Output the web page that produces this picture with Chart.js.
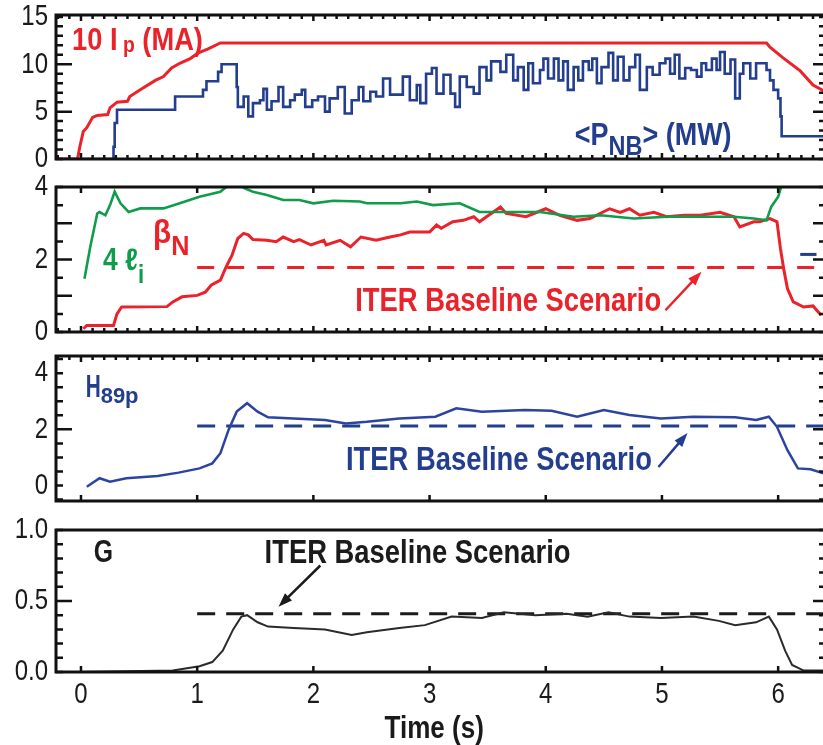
<!DOCTYPE html>
<html>
<head>
<meta charset="utf-8">
<script src="https://cdn.jsdelivr.net/npm/chart.js@4.4.0/dist/chart.umd.min.js"></script>
<style>
  html, body { margin: 0; padding: 0; background: #fff; overflow: hidden; }
  #wrap { position: relative; width: 823px; height: 745px; overflow: hidden; }
  canvas { position: absolute; left: 0; }
</style>
</head>
<body>
<div id="wrap">
  <canvas id="p1" width="825" height="175" style="top:0px"></canvas>
  <canvas id="p2" width="825" height="175" style="top:172px"></canvas>
  <canvas id="p3" width="825" height="175" style="top:341px"></canvas>
  <canvas id="p4" width="825" height="230" style="top:515px"></canvas>
</div>
<script>
// time axis (s)
const xMin = -0.215, xMax = 6.386;
const xTicks = [0, 1, 2, 3, 4, 5, 6];

// panel 1: 10*Ip (MA) and <P_NB> (MW)  -- [time, value]
const ip10 = [[-0.19,0],[-0.03,0],[-0.01,1.3],[0.02,2.9],[0.05,3.3],[0.10,4.4],[0.14,4.6],[0.23,4.7],[0.25,5.4],
  [0.29,5.8],[0.31,6.0],[0.40,6.1],[0.42,6.6],[0.51,7.3],[0.64,8.3],[0.71,8.7],[0.78,9.6],[0.85,10.1],[0.94,10.6],
  [1.01,11.2],[1.09,11.6],[1.20,12.25],[5.90,12.25],[5.93,11.8],[6.04,10.7],[6.19,9.3],[6.30,7.8],[6.39,7.2]];
const pnb = [[0.02,0],[0.26,0],[0.28,1.3],[0.29,3.8],[0.31,5.2],[0.78,5.2],[0.81,6.6],[1.02,6.6],[1.05,7.3],[1.08,8.2],
  [1.18,9.2],[1.21,10.0],[1.33,10.0],[1.34,7.6],[1.35,5.5],[1.40,6.6],[1.44,4.5],[1.48,5.9],[1.54,6.2],[1.57,7.4],
  [1.60,5.2],[1.64,6.1],[1.70,7.6],[1.74,5.5],[1.80,6.2],[1.84,6.8],[1.90,7.3],[1.93,5.5],[1.99,6.2],[2.04,6.6],
  [2.10,5.0],[2.14,6.4],[2.21,7.6],[2.27,4.8],[2.33,6.2],[2.39,7.6],[2.43,6.1],[2.49,7.1],[2.54,6.6],[2.60,8.5],
  [2.66,6.8],[2.77,8.7],[2.83,6.2],[2.89,7.8],[2.92,5.9],[2.97,9.0],[3.02,9.6],[3.06,6.9],[3.12,8.9],[3.18,6.9],
  [3.22,5.5],[3.26,8.7],[3.32,7.6],[3.38,6.9],[3.43,9.7],[3.49,8.3],[3.53,10.3],[3.61,9.2],[3.66,11.0],[3.72,8.3],
  [3.76,9.7],[3.81,7.3],[3.85,10.1],[3.89,8.0],[3.95,9.4],[3.98,10.6],[4.02,8.5],[4.07,10.6],[4.11,8.3],[4.15,10.3],
  [4.19,7.3],[4.24,9.7],[4.28,8.3],[4.32,10.3],[4.37,9.4],[4.40,10.6],[4.44,8.0],[4.48,9.7],[4.54,11.2],[4.58,8.3],
  [4.62,10.8],[4.67,8.3],[4.72,9.7],[4.77,11.0],[4.81,7.3],[4.87,9.7],[4.92,8.9],[4.98,10.1],[5.03,10.6],[5.07,9.0],
  [5.11,11.0],[5.15,8.5],[5.20,9.6],[5.25,9.4],[5.30,8.7],[5.34,10.1],[5.38,9.4],[5.43,10.6],[5.47,9.4],[5.50,11.3],
  [5.54,9.0],[5.59,10.5],[5.63,6.4],[5.67,9.0],[5.70,10.1],[5.76,8.5],[5.81,10.1],[5.87,10.1],[5.90,9.4],[5.93,8.3],
  [5.96,7.3],[6.00,6.4],[6.02,4.5],[6.03,2.4],[6.39,2.4]];

// panel 2: beta_N, 4*li
const betaN = [[0.02,0.09],[0.05,0.18],[0.28,0.18],[0.31,0.5],[0.35,0.69],[0.74,0.7],[0.79,0.83],[0.87,0.97],[1.0,1.01],
  [1.07,1.1],[1.12,1.29],[1.2,1.43],[1.25,1.8],[1.3,2.12],[1.33,2.4],[1.35,2.58],[1.4,2.72],[1.44,2.68],[1.48,2.55],
  [1.6,2.53],[1.68,2.49],[1.74,2.62],[1.83,2.49],[1.88,2.55],[1.98,2.4],[2.09,2.53],[2.11,2.4],[2.23,2.53],[2.32,2.35],
  [2.41,2.62],[2.54,2.53],[2.66,2.62],[2.75,2.68],[2.83,2.76],[3.0,2.76],[3.06,2.95],[3.1,2.86],[3.2,3.04],[3.29,3.08],
  [3.38,3.18],[3.43,3.04],[3.49,3.18],[3.61,3.45],[3.66,3.27],[3.83,3.18],[4.0,3.4],[4.12,3.22],[4.27,3.08],[4.38,3.13],
  [4.55,3.4],[4.64,3.3],[4.72,3.4],[4.81,3.22],[4.93,3.3],[5.04,3.18],[5.19,3.22],[5.33,3.22],[5.5,3.3],[5.62,3.18],
  [5.67,2.9],[5.79,3.04],[5.84,3.04],[5.93,3.13],[5.99,3.04],[6.02,2.3],[6.05,1.7],[6.08,1.2],[6.13,0.83],[6.22,0.69],
  [6.3,0.72],[6.37,0.46]];
const li4 = [[0.03,1.47],[0.08,2.35],[0.14,3.27],[0.16,3.31],[0.21,3.22],[0.25,3.5],[0.29,3.87],[0.34,3.55],[0.41,3.31],
  [0.51,3.41],[0.71,3.41],[0.85,3.55],[1.02,3.73],[1.2,3.87],[1.25,4.0],[1.32,4.15],[1.41,3.96],[1.48,3.87],[1.6,3.78],
  [1.74,3.64],[1.88,3.64],[2.0,3.55],[2.17,3.62],[2.4,3.6],[2.46,3.55],[2.75,3.55],[2.89,3.6],[3.03,3.5],[3.26,3.55],
  [3.43,3.31],[3.69,3.31],[3.95,3.31],[4.24,3.18],[4.47,3.22],[4.76,3.13],[5.04,3.18],[5.33,3.18],[5.62,3.18],[5.79,3.13],
  [5.9,3.08],[5.94,3.45],[6.0,3.73],[6.04,4.15]];
const stub = [[6.19,2.14],[6.33,2.14]];

// panel 3: H89p
const h89 = [[0.05,-0.04],[0.16,0.26],[0.25,0.14],[0.39,0.26],[0.66,0.34],[0.84,0.46],[1.02,0.61],[1.13,0.79],[1.2,1.15],
  [1.27,1.98],[1.34,2.63],[1.43,2.93],[1.52,2.63],[1.61,2.43],[1.83,2.39],[2.1,2.33],[2.28,2.21],[2.46,2.27],[2.74,2.39],
  [3.05,2.45],[3.23,2.75],[3.45,2.63],[3.82,2.69],[4.05,2.66],[4.27,2.45],[4.5,2.69],[4.72,2.51],[4.99,2.39],[5.27,2.45],
  [5.63,2.43],[5.81,2.33],[5.92,2.45],[5.99,2.09],[6.08,1.26],[6.17,0.61],[6.28,0.58],[6.39,0.43]];

// panel 4: G
const gain = [[0.0,0.0],[0.79,0.01],[1.02,0.04],[1.13,0.07],[1.22,0.15],[1.31,0.3],[1.38,0.39],[1.43,0.4],[1.52,0.35],
  [1.61,0.32],[1.83,0.31],[2.1,0.3],[2.33,0.26],[2.46,0.28],[2.74,0.31],[2.96,0.33],[3.19,0.39],[3.45,0.38],[3.64,0.42],
  [3.91,0.4],[4.18,0.41],[4.36,0.39],[4.54,0.42],[4.72,0.39],[4.99,0.38],[5.27,0.39],[5.49,0.36],[5.63,0.33],[5.81,0.35],
  [5.92,0.39],[5.99,0.3],[6.06,0.15],[6.12,0.05],[6.22,0.01],[6.39,0.01]];

// ITER baseline levels (dashed lines start at 1 s)
const iterStart = 1.0;
const iterBetaN = 1.78, iterH89 = 2.12, iterG = 0.41;

// y tick labels
const y1Ticks = [0, 5, 10, 15];
const y2Ticks = [0, 2, 4];
const y3Ticks = [0, 2, 4];
const y4Ticks = [0, 0.5, 1];

const FONT = '"Liberation Sans", Arial, sans-serif';
const RED = '#ea2229', BLUE = '#233e8e', GREEN = '#109c4b', BLACK = '#1b1b1b';
const TICK_SX = 0.8;

function xy(pairs) { return pairs.map(p => ({ x: p[0], y: p[1] })); }
function level(v) { return [{ x: iterStart, y: v }, { x: xMax, y: v }]; }

function line(data, color, width, extra) {
  return Object.assign({ data: xy(data), borderColor: color, borderWidth: width, pointRadius: 0, tension: 0, fill: false }, extra || {});
}
function dashed(v, color, dash) {
  return { data: level(v), borderColor: color, borderWidth: 3, pointRadius: 0, borderDash: dash, fill: false };
}

// narrow text: horizontally squeezed canvas text
function squeezed(ctx, text, x, y, sx, align) {
  ctx.save();
  ctx.translate(x, y);
  ctx.scale(sx, 1);
  ctx.textAlign = align || 'left';
  ctx.fillText(text, 0, 0);
  ctx.restore();
}

function drawNote(chart, n) {
  const ctx = chart.ctx;
  let px = chart.scales.x.getPixelForValue(n.at[0]);
  const py = chart.scales.y.getPixelForValue(n.at[1]);
  ctx.save();
  ctx.fillStyle = n.color;
  ctx.textBaseline = 'alphabetic';
  n.parts.forEach(p => {
    const sx = p.sx || n.sx || 1;
    ctx.font = (p.weight || 'bold') + ' ' + p.size + 'px ' + FONT;
    squeezed(ctx, p.text, px, py + (p.dy || 0), sx);
    px += ctx.measureText(p.text).width * sx;
  });
  ctx.restore();
}

function drawArrow(chart, a) {
  const ctx = chart.ctx, sx = chart.scales.x, sy = chart.scales.y;
  const x0 = sx.getPixelForValue(a.from[0]), y0 = sy.getPixelForValue(a.from[1]);
  const x1 = sx.getPixelForValue(a.to[0]), y1 = sy.getPixelForValue(a.to[1]);
  const ang = Math.atan2(y1 - y0, x1 - x0);
  ctx.save();
  ctx.strokeStyle = a.color;
  ctx.fillStyle = a.color;
  ctx.lineWidth = 2.5;
  ctx.beginPath();
  ctx.moveTo(x0, y0);
  ctx.lineTo(x1 - 10 * Math.cos(ang), y1 - 10 * Math.sin(ang));
  ctx.stroke();
  ctx.beginPath();
  ctx.moveTo(x1, y1);
  ctx.lineTo(x1 - 14 * Math.cos(ang) + 5 * Math.sin(ang), y1 - 14 * Math.sin(ang) - 5 * Math.cos(ang));
  ctx.lineTo(x1 - 14 * Math.cos(ang) - 5 * Math.sin(ang), y1 - 14 * Math.sin(ang) + 5 * Math.cos(ang));
  ctx.closePath();
  ctx.fill();
  ctx.restore();
}

// frame with inward ticks, tick labels, text notes and arrows
const framePlugin = {
  id: 'frame',
  afterDraw(chart, args, opts) {
    const ctx = chart.ctx, a = chart.chartArea, sx = chart.scales.x, sy = chart.scales.y;
    ctx.save();
    ctx.strokeStyle = '#111';
    ctx.lineWidth = 3;
    ctx.beginPath();
    ctx.moveTo(a.right + 2, a.top); ctx.lineTo(a.left, a.top);
    ctx.lineTo(a.left, a.bottom); ctx.lineTo(a.right + 2, a.bottom);
    ctx.stroke();

    ctx.lineWidth = 2.5;
    ctx.beginPath();
    for (let i = Math.ceil(xMin * 10); i <= Math.floor(xMax * 10); i++) {
      const major = i % 10 === 0;
      const x = sx.getPixelForValue(i / 10);
      if (opts.xTop === 'minor' || (opts.xTop === 'major' && major)) {
        ctx.moveTo(x, a.top); ctx.lineTo(x, a.top + (major ? 6 : 4));
      }
      if (opts.xBottom === 'minor' || (opts.xBottom === 'major' && major)) {
        ctx.moveTo(x, a.bottom); ctx.lineTo(x, a.bottom - (major ? 6 : 4));
      }
    }
    const n = Math.round((sy.max - sy.min) / opts.yStep) + 2;
    const start = Math.ceil(sy.min / opts.yStep - 1e-6);
    for (let k = start; k < start + n; k++) {
      const v = k * opts.yStep;
      if (v < sy.min - 1e-6 || v > sy.max + 1e-6) continue;
      const y = sy.getPixelForValue(v);
      const major = opts.yMajors.some(m => Math.abs(m - v) < 1e-6);
      ctx.moveTo(a.left, y); ctx.lineTo(a.left + (major ? 16 : 7), y);
      ctx.moveTo(a.right, y); ctx.lineTo(a.right - (major ? 10 : 4), y);
    }
    ctx.stroke();

    // tick labels from the scales' own ticks
    ctx.fillStyle = '#1a1a1a';
    ctx.font = '30px ' + FONT;
    ctx.textBaseline = 'middle';
    const fmt = opts.yFormat || (v => String(v));
    sy.ticks.forEach(t => squeezed(ctx, fmt(t.value), a.left - 8, sy.getPixelForValue(t.value), TICK_SX, 'right'));
    if (opts.showX) {
      ctx.textBaseline = 'alphabetic';
      sx.ticks.forEach(t => squeezed(ctx, String(t.value), sx.getPixelForValue(t.value), a.bottom + 31, TICK_SX, 'center'));
      ctx.font = 'bold 31px ' + FONT;
      squeezed(ctx, 'Time (s)', sx.getPixelForValue(opts.titleAt), a.bottom + 66, 0.84, 'center');
    }
    ctx.restore();

    (opts.notes || []).forEach(nt => drawNote(chart, nt));
    (opts.arrows || []).forEach(ar => drawArrow(chart, ar));
  }
};

function makePanel(id, cfg) {
  const showX = !!cfg.showX;
  new Chart(document.getElementById(id), {
    type: 'line',
    data: { datasets: cfg.datasets },
    plugins: [framePlugin],
    options: {
      responsive: false,
      animation: false,
      events: [],
      layout: { autoPadding: false, padding: { top: 15, bottom: cfg.padBottom, left: 0, right: 2 } },
      plugins: { legend: { display: false }, tooltip: { enabled: false },
                 frame: Object.assign({ showX: showX, titleAt: 3.04 }, cfg.frame) },
      scales: {
        x: {
          type: 'linear', min: xMin, max: xMax, display: false,
          afterBuildTicks: s => { s.ticks = xTicks.map(v => ({ value: v })); }
        },
        y: {
          type: 'linear', min: cfg.yMin, max: cfg.yMax,
          afterFit: s => { s.width = 56; },
          afterBuildTicks: s => { s.ticks = cfg.yTicks.map(v => ({ value: v })); },
          grid: { display: false, drawTicks: false },
          border: { display: false },
          ticks: { display: false }
        }
      }
    }
  });
}

const iterText = 'ITER Baseline Scenario';

makePanel('p1', {
  yMin: 0, yMax: 15.2, yTicks: y1Ticks, padBottom: 16,
  datasets: [
    line(ip10, RED, 3),
    line(pnb, BLUE, 2.6, { stepped: true })
  ],
  frame: {
    xTop: 'minor', xBottom: 'minor', yStep: 1, yMajors: [5, 10],
    notes: [
      { at: [-0.077, 11.5], color: RED, sx: 0.88,
        parts: [{ text: '10 I', size: 31 }, { text: ' p', size: 22, dy: 2 }, { text: ' (MA)', size: 31 }] },
      { at: [4.25, 1.48], color: BLUE, sx: 0.87,
        parts: [{ text: '<P', size: 31 }, { text: 'NB', size: 27, dy: 10 }, { text: '> (MW)', size: 31 }] }
    ]
  }
});

makePanel('p2', {
  yMin: 0, yMax: 4, yTicks: y2Ticks, padBottom: 15,
  datasets: [
    line(li4, GREEN, 2.6),
    line(betaN, RED, 3),
    line(stub, BLUE, 3),
    dashed(iterBetaN, RED, [17, 13])
  ],
  frame: {
    xTop: 'major', xBottom: 'minor', yStep: 0.5, yMajors: [1, 2, 3],
    notes: [
      { at: [0.19, 1.70], color: GREEN, sx: 0.85,
        parts: [{ text: '4 \u2113', size: 31 }, { text: 'i', size: 26, dy: 13 }] },
      { at: [0.62, 2.45], color: RED, sx: 0.9,
        parts: [{ text: '\u03B2', size: 33 }, { text: 'N', size: 28, dy: 12 }] },
      { at: [2.36, 0.57], color: RED, sx: 0.83, parts: [{ text: iterText, size: 33 }] }
    ],
    arrows: [{ from: [5.03, 0.6], to: [5.34, 1.66], color: RED }]
  }
});

makePanel('p3', {
  yMin: -0.55, yMax: 4.61, yTicks: y3Ticks, padBottom: 15,
  datasets: [
    line(h89, '#2c44a0', 2.5),
    dashed(iterH89, BLUE, [18, 11])
  ],
  frame: {
    xTop: 'minor', xBottom: 'major', yStep: 0.5, yMajors: [2],
    notes: [
      { at: [0.04, 3.15], color: BLUE,
        parts: [{ text: 'H', size: 32, sx: 0.65 }, { text: '89p', size: 22, dy: 6, sx: 1.0 }] },
      { at: [2.28, 0.55], color: BLUE, sx: 0.83, parts: [{ text: iterText, size: 33 }] }
    ],
    arrows: [{ from: [4.97, 0.66], to: [5.22, 1.87], color: BLUE }]
  }
});

makePanel('p4', {
  showX: true, yMin: 0, yMax: 1, yTicks: y4Ticks, padBottom: 73,
  datasets: [
    line(gain, '#2a2a2a', 2),
    dashed(iterG, BLACK, [18, 11])
  ],
  frame: {
    xTop: 'none', xBottom: 'major', yStep: 0.1, yMajors: [0.5],
    yFormat: v => v.toFixed(1),
    notes: [
      { at: [0.11, 0.775], color: BLACK, sx: 0.8, parts: [{ text: 'G', size: 31 }] },
      { at: [1.58, 0.77], color: BLACK, sx: 0.83, parts: [{ text: iterText, size: 33 }] }
    ],
    arrows: [{ from: [2.06, 0.75], to: [1.70, 0.46], color: BLACK }]
  }
});
</script>
</body>
</html>
